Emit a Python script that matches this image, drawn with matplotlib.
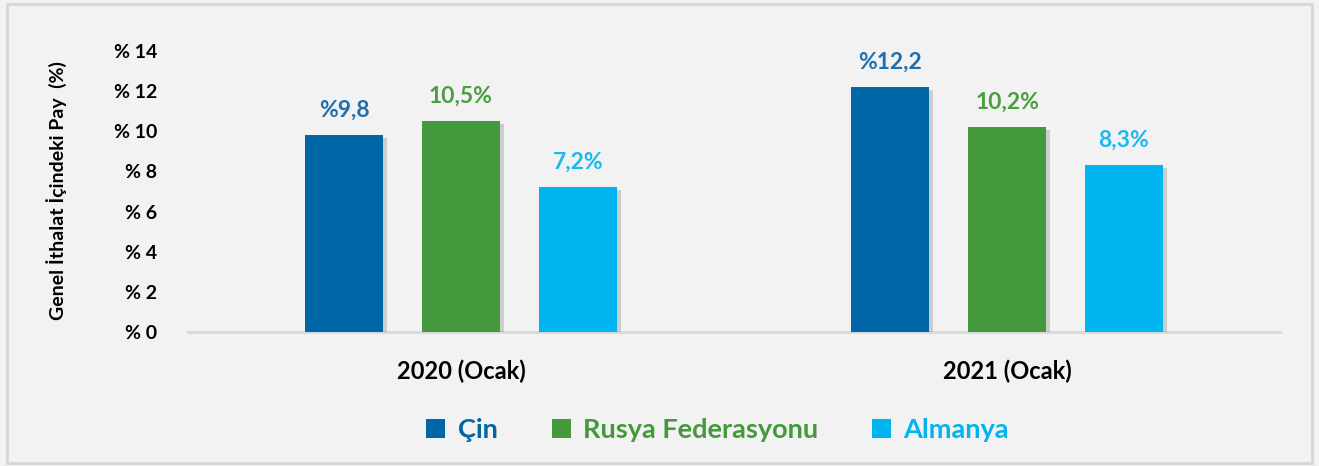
import numpy as np
import matplotlib.pyplot as plt
from matplotlib.patches import Patch, Rectangle
import matplotlib.patheffects as pe

plt.rcParams['font.family'] = ['Lato', 'DejaVu Sans']

categories = ['2020 (Ocak)', '2021 (Ocak)']
series = ['Çin', 'Rusya Federasyonu', 'Almanya']
values = {
    'Çin': [9.8, 12.2],
    'Rusya Federasyonu': [10.5, 10.2],
    'Almanya': [7.2, 8.3],
}
labels = {
    'Çin': ['%9,8', '%12,2'],
    'Rusya Federasyonu': ['10,5%', '10,2%'],
    'Almanya': ['7,2%', '8,3%'],
}
yticks = [0, 2, 4, 6, 8, 10, 12, 14]
ytick_labels = ['% 0', '% 2', '% 4', '% 6', '% 8', '% 10', '% 12', '% 14']

colors = {'Çin': '#0066a6', 'Rusya Federasyonu': '#43993c', 'Almanya': '#00b5ef'}
label_colors = {'Çin': '#1f6fae', 'Rusya Federasyonu': '#4a9e3f', 'Almanya': '#1cb8ef'}

fig = plt.figure(figsize=(13.19, 4.66), dpi=100, facecolor='#f2f2f2')
fig.patches.append(Rectangle((0.005, 0.007), 0.99, 0.985, transform=fig.transFigure,
                             fill=False, edgecolor='#d6d6d6', linewidth=2))
ax = fig.add_axes([0.1425, 0.2876, 0.828, 0.603])
ax.set_facecolor('#f2f2f2')

x = np.arange(len(categories))
width = 0.143
step = 0.214
shadow = [pe.SimplePatchShadow(offset=(3, -2), shadow_rgbFace='#000000', alpha=0.15), pe.Normal()]
for i, s in enumerate(series):
    pos = x + (i - 1) * step
    bars = ax.bar(pos, values[s], width, color=colors[s], zorder=3)
    for b in bars:
        b.set_path_effects(shadow)
    for p, v, t in zip(pos, values[s], labels[s]):
        ax.text(p, v + 1.25, t, ha='center', va='center', fontsize=16.5,
                fontweight='bold', color=label_colors[s])

ax.set_xlim(-0.5, 1.5)
ax.set_ylim(0, 14)
ax.set_xticks(x)
ax.set_xticklabels(categories, fontsize=17, fontweight='bold')
ax.set_yticks(yticks)
ax.set_yticklabels(ytick_labels, fontsize=14, fontweight='bold')
ax.tick_params(length=0)
ax.tick_params(axis='x', pad=20)
ax.tick_params(axis='y', pad=22)
for sp in ['top', 'right', 'left']:
    ax.spines[sp].set_visible(False)
ax.spines['bottom'].set_color('#d9d9d9')
ax.spines['bottom'].set_linewidth(2)

fig.text(0.043, 0.59, 'Genel İthalat İçindeki Pay  (%)', rotation=90, ha='center', va='center',
         fontsize=14, fontweight='bold')

handles = [Patch(facecolor=colors[s], edgecolor='none') for s in series]
leg = fig.legend(handles, series, loc='center', bbox_to_anchor=(0.544, 0.077), ncol=3,
                 frameon=False, fontsize=19.5, handlelength=0.7, handleheight=0.7,
                 handletextpad=0.45, columnspacing=2.0)
for t, s in zip(leg.get_texts(), series):
    t.set_color(colors[s])
    t.set_fontweight('bold')

fig.savefig('out.png', dpi=100, facecolor=fig.get_facecolor())
